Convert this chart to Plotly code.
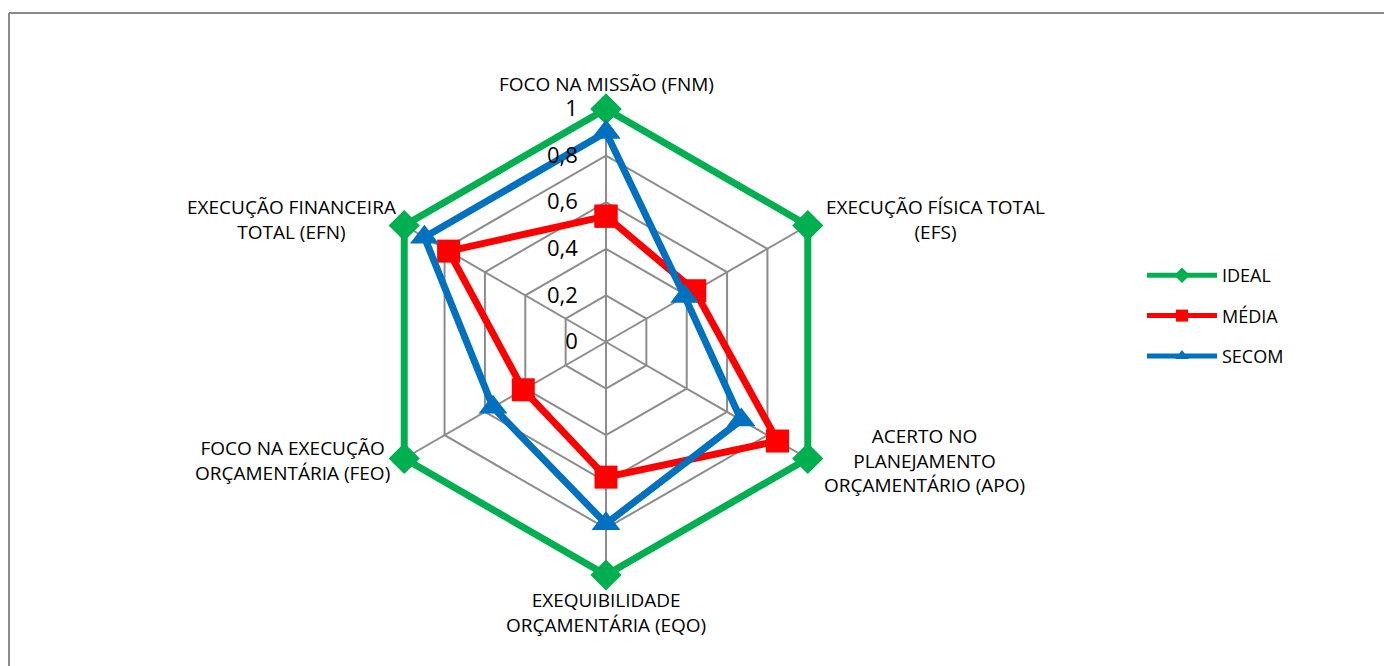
import math
import plotly.graph_objects as go

categories = [
    "FOCO NA MISSÃO (FNM)",
    "EXECUÇÃO FÍSICA TOTAL<br>(EFS)",
    "ACERTO NO<br>PLANEJAMENTO<br>ORÇAMENTÁRIO (APO)",
    "EXEQUIBILIDADE<br>ORÇAMENTÁRIA (EQO)",
    "FOCO NA EXECUÇÃO<br>ORÇAMENTÁRIA (FEO)",
    "EXECUÇÃO FINANCEIRA<br>TOTAL (EFN)",
]
ideal = [1, 1, 1, 1, 1, 1]
media = [0.54, 0.44, 0.85, 0.58, 0.41, 0.78]
secom = [0.90, 0.39, 0.67, 0.78, 0.56, 0.90]
radial_ticks = [0, 0.2, 0.4, 0.6, 0.8, 1]
radial_labels = ["0", "0,2", "0,4", "0,6", "0,8", "1"]

series = [
    ("IDEAL", ideal, "#00B050", "diamond", 24),
    ("MÉDIA", media, "#FF0000", "square", 23),
    ("SECOM", secom, "#0070C0", "triangle-up", 25),
]

fig = go.Figure()
for name, vals, color, sym, size in series:
    fig.add_trace(go.Scatterpolar(
        r=vals + vals[:1],
        theta=categories + categories[:1],
        mode="lines+markers",
        name=name,
        line=dict(color=color, width=7),
        marker=dict(symbol=sym, size=size, color=color),
        cliponaxis=False,
        legendgroup=name,
    ))

W, H = 1392, 666
cx, cy, R = 598, 334, 233
RMAX = 1.03
Rd = R * RMAX

# category label annotations placed around the polar vertices
n = len(categories)
label_specs = [
    # (dx, dy, xanchor, yanchor) offsets from vertex in px (dy positive = down)
    (0, -10, "center", "bottom"),
    (16, -6, "left", "middle"),
    (14, 2, "left", "middle"),
    (0, 10, "center", "top"),
    (-12, 2, "right", "middle"),
    (-6, -6, "right", "middle"),
]
annotations = []
for i, (cat, (dx, dy, xa, ya)) in enumerate(zip(categories, label_specs)):
    ang = 2 * math.pi * i / n
    vx = cx + R * math.sin(ang)
    vy = cy - R * math.cos(ang)
    annotations.append(dict(
        x=(vx + dx) / W, y=1 - (vy + dy) / H, xref="paper", yref="paper",
        text=cat, showarrow=False, xanchor=xa, yanchor=ya, align="center",
        font=dict(size=19, color="black"),
    ))

fig.update_layout(
    width=W, height=H,
    margin=dict(l=0, r=0, t=0, b=0),
    paper_bgcolor="white",
    separators=",.",
    font=dict(family="'Open Sans', sans-serif", color="black", size=17),
    polar=dict(
        domain=dict(x=[(cx - Rd) / W, (cx + Rd) / W], y=[(H - cy - Rd) / H, (H - cy + Rd) / H]),
        bgcolor="white",
        gridshape="linear",
        angularaxis=dict(
            direction="clockwise", rotation=90,
            showline=False, gridcolor="#8C8C8C", gridwidth=1.5,
            ticks="", showticklabels=False,
        ),
        radialaxis=dict(
            range=[0, RMAX], angle=90, tickangle=90,
            tickvals=radial_ticks, ticktext=radial_labels,
            showline=False, gridcolor="#8C8C8C", gridwidth=1.5,
            ticks="outside", ticklen=20, tickcolor="rgba(0,0,0,0)",
            tickfont=dict(size=22, color="black"),
            side="counterclockwise",
        ),
    ),
    legend=dict(
        x=1134 / W, y=1 - 249 / H, xanchor="left", yanchor="top",
        font=dict(size=18, color="black"),
        tracegroupgap=14,
        itemwidth=70,
        itemsizing="constant",
        bgcolor="rgba(0,0,0,0)",
    ),
    annotations=annotations,
    shapes=[
        dict(type="line", xref="paper", yref="paper",
             x0=1 / W, x1=1.0, y0=1 - 5 / H, y1=1 - 5 / H,
             line=dict(color="#8A8A8A", width=2)),
        dict(type="line", xref="paper", yref="paper",
             x0=1 / W, x1=1 / W, y0=1 - 5 / H, y1=-0.02,
             line=dict(color="#8A8A8A", width=2)),
    ],
)

fig.write_html("out.html")
